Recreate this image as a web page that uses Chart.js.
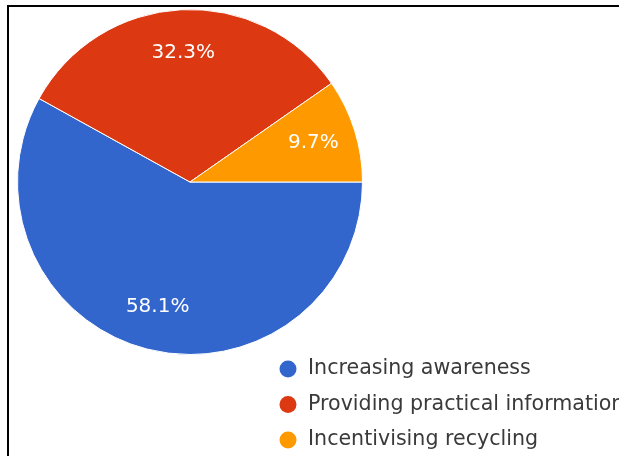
<!DOCTYPE html>
<html lang="en">
<head>
  <meta charset="UTF-8" />
  <title>Pie chart</title>
  <script src="https://cdn.jsdelivr.net/npm/chart.js"></script>
  <style>
    html, body {
      margin: 0;
      padding: 0;
      background: #fff;
      overflow: hidden;
    }
    .frame {
      position: absolute;
      left: 7px;
      top: 5px;
      width: 612px;
      height: 451px;
      border-top: 2px solid #000;
      border-left: 2px solid #000;
    }
    .wrap {
      position: absolute;
      left: 0;
      top: 0;
      width: 619px;
      height: 456px;
    }
  </style>
</head>
<body>
  <div class="frame"></div>
  <div class="wrap">
    <canvas id="pieChart" width="619" height="456"></canvas>
  </div>

  <script>
    const labels = ["Increasing awareness", "Providing practical information", "Incentivising recycling"];
    const values = [58.1, 32.3, 9.7];
    const valueLabels = ["58.1%", "32.3%", "9.7%"];
    const colors = ["#3366CC", "#DC3912", "#FF9900"];

    // percent text inside each slice
    const sliceLabels = {
      id: "sliceLabels",
      afterDatasetsDraw(chart) {
        const ctx = chart.ctx;
        const meta = chart.getDatasetMeta(0);
        ctx.save();
        ctx.font = "20px 'DejaVu Sans'";
        ctx.fillStyle = "#ffffff";
        ctx.textAlign = "center";
        ctx.textBaseline = "middle";
        meta.data.forEach((arc, i) => {
          const p = arc.getProps(["x", "y", "startAngle", "endAngle", "outerRadius"], true);
          const mid = (p.startAngle + p.endAngle) / 2;
          const r = p.outerRadius * 0.75;
          ctx.fillText(valueLabels[i], p.x + Math.cos(mid) * r, p.y + Math.sin(mid) * r);
        });
        ctx.restore();
      }
    };

    // legend sitting under the pie, on the right
    const cornerLegend = {
      id: "cornerLegend",
      afterDraw(chart) {
        const ctx = chart.ctx;
        const ds = chart.data.datasets[0];
        ctx.save();
        ctx.font = "20.6px 'DejaVu Sans'";
        ctx.textBaseline = "middle";
        chart.data.labels.forEach((lab, i) => {
          const y = 369 + i * 35.5;
          ctx.beginPath();
          ctx.arc(288, y, 8.5, 0, Math.PI * 2);
          ctx.fillStyle = ds.backgroundColor[i];
          ctx.fill();
          ctx.fillStyle = "#3a3a3a";
          ctx.fillText(lab, 308, y);
        });
        ctx.restore();
      }
    };

    new Chart(document.getElementById("pieChart"), {
      type: "pie",
      data: {
        labels: labels,
        datasets: [{
          data: values,
          backgroundColor: colors,
          borderColor: "#ffffff",
          borderWidth: 1
        }]
      },
      options: {
        responsive: false,
        animation: false,
        events: [],
        rotation: 90,
        layout: {
          padding: { left: 17, top: 9, right: 256, bottom: 101 }
        },
        plugins: {
          legend: { display: false },
          tooltip: { enabled: false }
        }
      },
      plugins: [sliceLabels, cornerLegend]
    });
  </script>
</body>
</html>
